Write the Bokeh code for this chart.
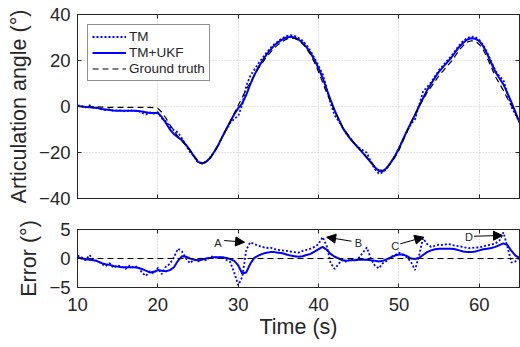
import numpy as np
from bokeh.plotting import figure
from bokeh.layouts import column
from bokeh.models import LinearAxis, FixedTicker, Range1d, Arrow, NormalHead, Span, Label
from bokeh.embed import file_html
from bokeh.resources import INLINE

# ---------------- data ----------------
time_s = np.arange(10.0, 65.001, 0.5)  # sampling grid, 0.5 s

ground_truth = [
    0.0, 0.0, -0.1, -0.1, -0.2, -0.2, -0.3, -0.3, -0.4, -0.4,          # 10 - 14.5
    -0.4, -0.4, -0.4, -0.4, -0.4, -0.4, -0.4, -0.4, -0.4, -0.5,        # 15 - 19.5
    -0.8, -2.5, -5.0, -8.0, -10.5, -13.0, -15.0, -17.0, -19.0, -21.5,  # 20 - 24.5
    -23.8, -24.6, -24.0, -22.5, -20.0, -17.0, -13.5, -10.0, -6.5, -3.0,  # 25 - 29.5
    0.5, 4.0, 7.5, 10.5, 13.5, 16.5, 19.0, 21.5, 23.5, 25.5,           # 30 - 34.5
    27.0, 28.3, 29.3, 29.8, 29.6, 28.8, 27.3, 25.2, 22.5, 19.0,        # 35 - 39.5
    15.0, 10.5, 6.0, 2.0, -2.0, -5.5, -9.0, -11.5, -14.0, -16.0,       # 40 - 44.5
    -18.0, -20.0, -22.0, -24.0, -26.0, -27.5, -27.8, -26.5, -24.5, -22.0,  # 45 - 49.5
    -19.0, -15.0, -11.0, -7.0, -3.5, 0.0, 3.0, 6.0, 8.5, 11.0,         # 50 - 54.5
    13.5, 15.5, 17.5, 19.5, 22.0, 24.5, 26.5, 28.0, 28.6, 28.3,        # 55 - 59.5
    27.0, 24.5, 21.0, 17.0, 13.0, 10.0, 7.0, 3.5, 0.5, -3.0,           # 60 - 64.5
    -7.0,                                                              # 65
]

err_ukf = [
    0.2, 0.0, -0.1, -0.2, -0.3, -0.5, -0.8, -1.0, -1.1, -1.3,
    -1.4, -1.5, -1.5, -1.5, -1.5, -1.6, -1.8, -2.1, -2.4, -2.3,
    -2.0, -2.1, -2.2, -2.0, -1.5, -0.4, 0.4, 0.3, 0.0, -0.2,
    -0.3, -0.2, 0.0, 0.1, 0.2, 0.2, 0.2, 0.1, -0.1, -0.4,
    -1.2, -2.6, -2.4, -0.9, 0.1, 0.5, 0.8, 1.0, 1.1, 1.1,
    1.0, 0.9, 0.7, 0.5, 0.4, 0.3, 0.4, 0.6, 0.8, 1.2,
    1.6, 2.0, 1.5, 0.8, 0.3, 0.0, -0.3, -0.4, -0.3, -0.3,
    -0.2, -0.2, -0.2, -0.3, -0.4, -0.5, -0.4, -0.1, 0.2, 0.5,
    0.7, 0.7, 0.4, 0.0, -0.1, 0.1, 0.6, 1.1, 1.4, 1.6,
    1.7, 1.7, 1.7, 1.7, 1.6, 1.4, 1.2, 1.1, 1.1, 1.2,
    1.4, 1.6, 1.7, 1.8, 2.0, 2.3, 2.6, 2.3, 1.3, 0.5,
    0.1,
]

err_tm = [
    0.5, 0.2, -0.3, 0.6, -0.2, -0.4, -0.9, -1.3, -0.8, -1.6,
    -1.2, -1.4, -1.8, -1.2, -1.6, -1.3, -2.4, -3.0, -2.2, -2.6,
    -1.6, -2.7, -1.4, -0.9, 0.2, 1.7, 1.2, 0.0, -0.8, -0.2,
    -0.5, 0.0, -0.3, 0.3, 0.3, 0.1, 0.3, -0.2, -0.6, -2.4,
    -4.6, -3.2, 1.5, 2.8, 2.5, 2.2, 2.0, 1.8, 1.9, 1.6,
    1.5, 1.4, 1.3, 1.2, 1.1, 1.0, 1.3, 1.5, 1.7, 2.0,
    2.5, 3.7, 2.2, -0.8, -1.8, -0.9, -0.2, -0.6, 0.0, -0.3,
    0.1, 1.0, 1.9, 0.0, -1.2, -1.7, -0.8, -0.4, 0.3, 0.6,
    1.0, 0.6, 0.2, -0.6, -2.0, 0.5, 3.5, 2.5, 2.0, 2.2,
    2.4, 2.3, 2.5, 2.4, 2.2, 2.1, 2.0, 1.8, 1.8, 1.9,
    1.9, 2.1, 2.3, 2.4, 2.6, 3.1, 4.5, 2.0, -0.7, -0.5,
    0.2,
]

assert len(ground_truth) == len(time_s) == len(err_ukf) == len(err_tm)

angle_tm = np.array(ground_truth) + np.array(err_tm)
angle_ukf = np.array(ground_truth) + np.array(err_ukf)

x_ticks = [10, 20, 30, 40, 50, 60]
y_ticks_top = [-40, -20, 0, 20, 40]
y_ticks_bot = [-5, 0, 5]

note_text = ["A", "B", "C", "D"]
note_x = [27.46, 44.96, 49.54, 58.71]
note_y = [2.64, 2.64, 2.24, 3.79]
arrow_x0 = [28.25, 44.10, 50.16, 59.34]
arrow_y0 = [3.10, 2.98, 2.53, 3.84]
arrow_x1 = [30.79, 41.00, 53.09, 62.88]
arrow_y1 = [2.81, 3.67, 3.67, 3.97]

# ---------------- styling helpers ----------------
INK = "#262626"
FONT = "Liberation Sans"
BLUE = "#0000FF"


def make_axis(fig, side, ticks, labels=True, title=None):
    ax = LinearAxis()
    ax.ticker = FixedTicker(ticks=ticks)
    ax.major_tick_in = 4
    ax.major_tick_out = 0
    ax.minor_tick_in = 0
    ax.minor_tick_out = 0
    ax.axis_line_color = INK
    ax.axis_line_width = 1
    ax.major_tick_line_color = INK
    ax.major_label_text_font = FONT
    ax.major_label_text_color = INK
    ax.axis_label_text_font = FONT
    ax.axis_label_text_font_style = "normal"
    ax.axis_label_text_color = INK
    ax.axis_label_text_font_size = "21.5px"
    if labels:
        ax.major_label_text_font_size = "18.5px"
        ax.major_label_standoff = 7
        ax.axis_label_standoff = 5
    else:
        ax.major_label_overrides = {t: "" for t in ticks}
        ax.major_label_text_font_size = "1px"
        ax.major_label_standoff = 0
    if title is not None:
        ax.axis_label = title
    fig.add_layout(ax, side)
    return ax


def frame_figure(fig, yticks):
    fig.outline_line_color = INK
    fig.background_fill_color = "white"
    fig.border_fill_color = "white"
    fig.xgrid.ticker = FixedTicker(ticks=x_ticks)
    fig.ygrid.ticker = FixedTicker(ticks=yticks)
    for g in (fig.xgrid, fig.ygrid):
        g.grid_line_color = "#c8c8c8"
        g.grid_line_dash = "1 2"
        g.grid_line_width = 1


# ---------------- top: articulation angle ----------------
p1 = figure(width=520, height=208, x_range=Range1d(10, 65), y_range=Range1d(-40, 40),
            x_axis_location=None, y_axis_location=None,
            output_backend="svg", toolbar_location=None,
            min_border_left=77, min_border_right=1, min_border_top=14, min_border_bottom=10)
frame_figure(p1, y_ticks_top)
make_axis(p1, "below", x_ticks, labels=False)
make_axis(p1, "above", x_ticks, labels=False)
make_axis(p1, "left", y_ticks_top, labels=True, title="Articulation angle (°)")
make_axis(p1, "right", y_ticks_top, labels=False)

p1.line(time_s, angle_tm, line_color=BLUE, line_width=1.8, line_dash="2 2", legend_label="TM")
p1.line(time_s, angle_ukf, line_color=BLUE, line_width=2, legend_label="TM+UKF")
p1.line(time_s, ground_truth, line_color="black", line_width=1.2, line_dash="6 4",
        legend_label="Ground truth")

lg = p1.legend[0]
lg.location = "top_left"
lg.margin = 10
lg.padding = 4
lg.spacing = 1
lg.glyph_width = 34
lg.glyph_height = 15
lg.label_height = 15
lg.label_standoff = 3
lg.label_text_font = FONT
lg.label_text_font_size = "13.5px"
lg.label_text_color = INK
lg.border_line_color = INK
lg.border_line_width = 1
lg.background_fill_alpha = 1.0

# ---------------- bottom: error ----------------
p2 = figure(width=520, height=139, x_range=Range1d(10, 65), y_range=Range1d(-5, 5),
            x_axis_location=None, y_axis_location=None,
            output_backend="svg", toolbar_location=None,
            min_border_left=77, min_border_right=1, min_border_top=21, min_border_bottom=60)
frame_figure(p2, y_ticks_bot)
xb = make_axis(p2, "below", x_ticks, labels=True, title="Time (s)")
xb.major_label_standoff = 10
xb.axis_label_standoff = 1
make_axis(p2, "above", x_ticks, labels=False)
make_axis(p2, "left", y_ticks_bot, labels=True, title="Error (°)")
make_axis(p2, "right", y_ticks_bot, labels=False)

p2.line(time_s, err_tm, line_color=BLUE, line_width=1.8, line_dash="2 2")
p2.line(time_s, err_ukf, line_color=BLUE, line_width=2)
p2.add_layout(Span(location=0, dimension="width", line_color="black",
                   line_width=1.2, line_dash="6 4"))

for t, lx, ly, x0, y0, x1, y1 in zip(note_text, note_x, note_y, arrow_x0, arrow_y0, arrow_x1, arrow_y1):
    p2.add_layout(Arrow(x_start=x0, y_start=y0, x_end=x1, y_end=y1, line_color="black", line_width=1,
                        end=NormalHead(size=9, fill_color="black", line_color="black")))
    p2.add_layout(Label(x=lx, y=ly, text=t, text_align="center", text_baseline="middle",
                        text_font=FONT, text_font_size="11px", text_color=INK))

layout = column(p1, p2, spacing=0)
open("out.html", "w").write(file_html(layout, INLINE))
